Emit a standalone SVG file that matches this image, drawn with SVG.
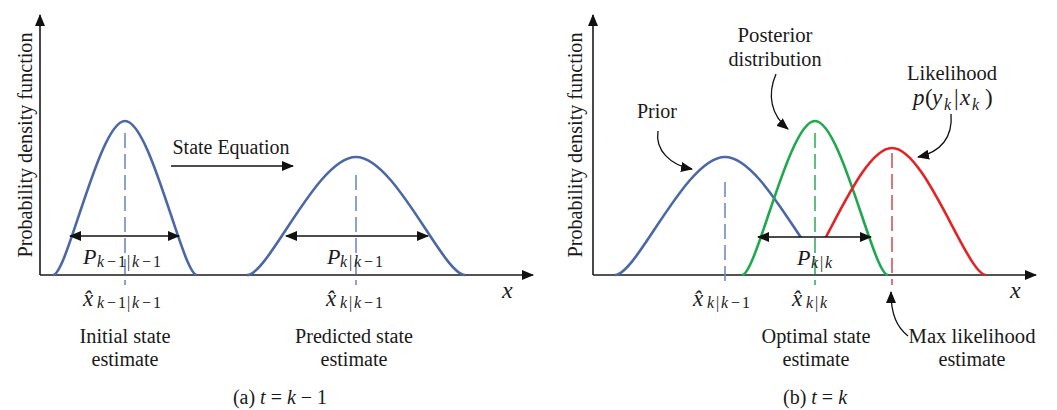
<svg xmlns="http://www.w3.org/2000/svg" width="1057" height="410" viewBox="0 0 1057 410">
<defs>
<marker id="ah" viewBox="0 0 12 10" refX="11" refY="5" markerWidth="13" markerHeight="10" markerUnits="userSpaceOnUse" orient="auto-start-reverse"><path d="M0,0 L12,5 L0,10 Z" fill="#111"/></marker>
<marker id="ahs" viewBox="0 0 12 10" refX="11" refY="5" markerWidth="12" markerHeight="10" markerUnits="userSpaceOnUse" orient="auto"><path d="M0,0 L12,5 L0,10 Z" fill="#111"/></marker>
<clipPath id="clipBlue"><polygon points="590,0 1057,0 1057,237 725,237 725,300 590,300"/></clipPath>
<clipPath id="clipRed"><polygon points="590,0 1057,0 1057,300 892,300 892,237 590,237"/></clipPath>
</defs>
<style>
.axis{stroke:#1a1a1a;stroke-width:1.6;fill:none}
.dbl{stroke:#111;stroke-width:1.6;fill:none}
.curve{fill:none;stroke-width:2.6}
.blue{stroke:#4a68a6}
.green{stroke:#1fa84e}
.red{stroke:#e42424}
.dash{stroke-width:1.6;stroke-dasharray:15 6;fill:none}
.dblue{stroke:#6f8cc0}
.dgreen{stroke:#35b160}
.dred{stroke:#d65454}
.lbl{font-size:20px;fill:#1a1a1a;text-anchor:middle}
.m{font-style:italic;fill:#1a1a1a}
.up{font-style:normal}
.s{font-size:16px}
.ptr{stroke:#111;stroke-width:1.3;fill:none}
</style>
<g font-family="'Liberation Serif', 'DejaVu Serif', serif">
<g id="axes-a">
<line class="axis" x1="40" y1="275" x2="40" y2="15" marker-end="url(#ah)"/>
<line class="axis" x1="40" y1="275" x2="533" y2="275" marker-end="url(#ah)"/>
<text class="lbl" transform="translate(32,145) rotate(-90)" textLength="225" lengthAdjust="spacingAndGlyphs">Probability density function</text>
<text class="m" x="502" y="298" font-size="24">x</text>
</g>

<g id="curve-initial">
<path class="curve blue" d="M53,275 C67.4,275 99.1,121 125,121 C150.9,121 182.6,275 197,275"/>
<line class="dash dblue" x1="125" y1="133" x2="125" y2="285"/>
</g>

<g id="curve-predicted">
<path class="curve blue" d="M247,275 C268.8,275 316.8,157 356,157 C395.2,157 443.2,275 465,275"/>
<line class="dash dblue" x1="356" y1="175" x2="356" y2="285"/>
</g>

<g id="label-initial">
<text class="m" x="83" y="264" font-size="22">P<tspan class="s" x="97" y="267">k</tspan><tspan class="s up" x="107 118 127">−1|</tspan><tspan class="s" x="132">k</tspan><tspan class="s up" x="142 153">−1</tspan></text>
<text class="m" x="83" y="306" font-size="23">x̂<tspan class="s" x="97" y="308">k</tspan><tspan class="s up" x="107 118 127">−1|</tspan><tspan class="s" x="132">k</tspan><tspan class="s up" x="142 153">−1</tspan></text>
<text class="lbl" x="125" y="343" textLength="91" lengthAdjust="spacingAndGlyphs">Initial state</text>
<text class="lbl" x="125" y="366" textLength="67" lengthAdjust="spacingAndGlyphs">estimate</text>
</g>

<g id="label-predicted">
<text class="m" x="327" y="264" font-size="22">P<tspan class="s" x="340" y="267">k</tspan><tspan class="s up" x="349">|</tspan><tspan class="s" x="354">k</tspan><tspan class="s up" x="364 375">−1</tspan></text>
<text class="m" x="326" y="306" font-size="23">x̂<tspan class="s" x="340" y="308">k</tspan><tspan class="s up" x="349">|</tspan><tspan class="s" x="354">k</tspan><tspan class="s up" x="364 375">−1</tspan></text>
<text class="lbl" x="354" y="343" textLength="118" lengthAdjust="spacingAndGlyphs">Predicted state</text>
<text class="lbl" x="354" y="366" textLength="67" lengthAdjust="spacingAndGlyphs">estimate</text>
</g>

<g id="state-equation">
<text class="lbl" x="231" y="154" textLength="117" lengthAdjust="spacingAndGlyphs">State Equation</text>
</g>

<text class="lbl" x="280" y="404">(a) <tspan font-style="italic">t</tspan> = <tspan font-style="italic">k</tspan> − 1</text>

<g id="axes-b">
<line class="axis" x1="593" y1="275" x2="593" y2="15" marker-end="url(#ah)"/>
<line class="axis" x1="593" y1="275" x2="1036" y2="275" marker-end="url(#ah)"/>
<text class="lbl" transform="translate(582,145) rotate(-90)" textLength="225" lengthAdjust="spacingAndGlyphs">Probability density function</text>
<text class="m" x="1010" y="298" font-size="24">x</text>
</g>

<g id="curve-prior">
<path class="curve blue" clip-path="url(#clipBlue)" d="M615,275 C637,275 685.4,157 725,157 C764.6,157 813,275 835,275"/>
<line class="dash dblue" x1="725" y1="182" x2="725" y2="285"/>
</g>

<g id="curve-posterior">
<path class="curve green" d="M742,275 C756.6,275 788.7,121 815,121 C841.3,121 873.4,275 888,275"/>
<line class="dash dgreen" x1="815" y1="133" x2="815" y2="285"/>
</g>

<g id="curve-likelihood">
<path class="curve red" clip-path="url(#clipRed)" d="M798,275 C816.8,275 858.2,148 892,148 C925.8,148 967.2,275 986,275"/>
<line class="dash dred" x1="892" y1="153" x2="892" y2="285"/>
</g>

<g id="label-prior">
<text class="lbl" x="657" y="118" textLength="40" lengthAdjust="spacingAndGlyphs">Prior</text>
</g>
<g id="label-posterior">
<text class="lbl" x="775" y="42" textLength="75" lengthAdjust="spacingAndGlyphs">Posterior</text>
<text class="lbl" x="775" y="66" textLength="93" lengthAdjust="spacingAndGlyphs">distribution</text>
</g>
<g id="label-likelihood">
<text class="lbl" x="952" y="80" textLength="90" lengthAdjust="spacingAndGlyphs">Likelihood</text>
<text class="m" font-size="23" y="105"><tspan x="913">p</tspan><tspan class="up" x="925">(</tspan><tspan x="932">y</tspan><tspan x="944" y="110" font-size="16">k</tspan><tspan class="up" x="954" y="105">|</tspan><tspan x="960">x</tspan><tspan x="972" y="110" font-size="16">k</tspan><tspan class="up" x="985" y="105">)</tspan></text>
</g>
<g id="label-posterior-est">
<text class="m" x="797" y="265" font-size="22">P<tspan class="s" x="811" y="268">k</tspan><tspan class="s up" x="820">|</tspan><tspan class="s" x="825">k</tspan></text>
<text class="m" x="693" y="306" font-size="23">x̂<tspan class="s" x="707" y="308">k</tspan><tspan class="s up" x="716">|</tspan><tspan class="s" x="721">k</tspan><tspan class="s up" x="731 742">−1</tspan></text>
<text class="m" x="792" y="306" font-size="23">x̂<tspan class="s" x="806" y="308">k</tspan><tspan class="s up" x="815">|</tspan><tspan class="s" x="820">k</tspan></text>
<text class="lbl" x="816" y="343" textLength="109" lengthAdjust="spacingAndGlyphs">Optimal state</text>
<text class="lbl" x="816" y="366" textLength="67" lengthAdjust="spacingAndGlyphs">estimate</text>
</g>
<g id="label-maxlik">
<text class="lbl" x="972" y="343" textLength="127" lengthAdjust="spacingAndGlyphs">Max likelihood</text>
<text class="lbl" x="972" y="366" textLength="67" lengthAdjust="spacingAndGlyphs">estimate</text>
</g>

<text class="lbl" x="815" y="404">(b) <tspan font-style="italic">t</tspan> = <tspan font-style="italic">k</tspan></text>
</g>
<g id="connectors">
<line class="dbl" x1="70" y1="236" x2="179" y2="236" marker-start="url(#ah)" marker-end="url(#ah)"/>
<line class="dbl" x1="286" y1="236" x2="428" y2="236" marker-start="url(#ah)" marker-end="url(#ah)"/>
<line class="dbl" x1="171" y1="166" x2="293" y2="166" marker-end="url(#ah)"/>
<line class="dbl" x1="758" y1="237" x2="871" y2="237" marker-start="url(#ah)" marker-end="url(#ah)"/>
<path class="ptr" d="M658,131 C655,150 670,165 692,169" marker-end="url(#ahs)"/>
<path class="ptr" d="M776,74 C767,95 771,115 788,129" marker-end="url(#ahs)"/>
<path class="ptr" d="M951,114 C953,137 941,152 918,157" marker-end="url(#ahs)"/>
<path class="ptr" d="M908,336 C897,327 891,315 891,292" marker-end="url(#ahs)"/>
</g>
</svg>
